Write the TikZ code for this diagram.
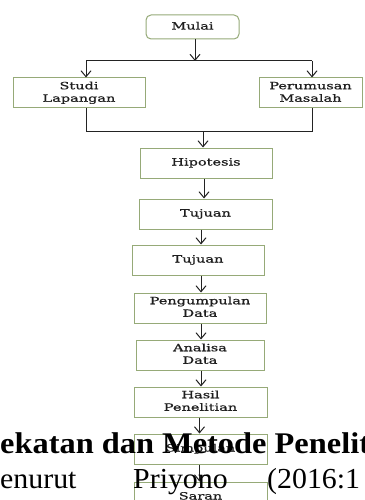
\documentclass[tikz,border=0pt]{standalone}
\usepackage{fontspec}
\usepackage{graphicx}
\usetikzlibrary{arrows.meta}
\newfontfamily\boxfont{DejaVu Serif}[FakeBold=0.6]
\newfontfamily\docfont{Liberation Serif}
\definecolor{boxedge}{RGB}{150,170,120}
\definecolor{linecol}{RGB}{35,35,35}
\definecolor{txtcol}{RGB}{30,30,30}
\newcommand\bt[1]{\scalebox{1.45}[1]{\begin{tabular}{@{}c@{}}#1\end{tabular}}}
\newcommand\bigw[1]{\scalebox{1.08}[1]{#1}}
\newcommand\regw[1]{\scalebox{1.03}[1]{#1}}
\begin{document}
\begin{tikzpicture}[x=1pt,y=-1pt,
  box/.style={draw=boxedge, line width=1pt, fill=white, inner sep=0pt, text=txtcol,
    font=\boxfont\fontsize{10}{12.5}\selectfont},
  arr/.style={draw=linecol, line width=1pt, -{Straight Barb[length=6pt,width=10pt]}},
  ln/.style={draw=linecol, line width=1pt},
  doctxt/.style={anchor=base west, inner sep=0pt, text=black}]
\useasboundingbox (0,0) rectangle (364,500);
\clip (0,0) rectangle (364,500);
\fill[white] (0,0) rectangle (364,500);

% boxes
\node[box, rounded corners=5pt, minimum width=93pt, minimum height=24pt] (mulai) at (192.5,27) {\bt{Mulai}};
\node[box, minimum width=132pt, minimum height=30pt] (studi) at (79,93) {\bt{Studi\\Lapangan}};
\node[box, minimum width=103pt, minimum height=30pt] (perum) at (310.5,93) {\bt{Perumusan\\Masalah}};
\node[box, minimum width=132pt, minimum height=30pt] (hip) at (206,163) {\bt{Hipotesis}};
\node[box, minimum width=133pt, minimum height=30pt] (tuj1) at (205.5,214) {\bt{Tujuan}};
\node[box, minimum width=132pt, minimum height=30pt] (tuj2) at (198,260) {\bt{Tujuan}};
\node[box, minimum width=132pt, minimum height=30pt] (peng) at (200,308) {\bt{Pengumpulan\\Data}};
\node[box, minimum width=128pt, minimum height=30pt] (anal) at (200,355) {\bt{Analisa\\Data}};
\node[box, minimum width=133pt, minimum height=30pt] (hasil) at (200.5,402) {\bt{Hasil\\Penelitian}};
\node[box, minimum width=133pt, minimum height=30pt] (simp) at (200.5,449) {\bt{Simpulan}};
\node[box, minimum width=133pt, minimum height=30pt] (saran) at (200.5,497) {\bt{Saran}};

% connectors
\coordinate (split) at (195,61);
\coordinate (cl) at (86,61);
\coordinate (cr) at (312,61);
\draw[arr] (mulai.south -| split) -- (split);
\draw[ln] (cl) -- (cr);
\draw[arr] (cl) -- (studi.north -| cl);
\draw[arr] (cr) -- (perum.north -| cr);
\coordinate (jl) at (86,131);
\coordinate (jr) at (312,131);
\coordinate (jm) at (203,131);
\draw[ln] (studi.south -| jl) -- (jl) -- (jr) -- (perum.south -| jr);
\draw[arr] (jm) -- (hip.north -| jm);
\coordinate (c1) at (204,0);
\coordinate (c2) at (201,0);
\coordinate (c3) at (199.5,0);
\draw[arr] (hip.south -| c1) -- (tuj1.north -| c1);
\draw[arr] (tuj1.south -| c2) -- (tuj2.north -| c2);
\draw[arr] (tuj2.south -| c2) -- (peng.north -| c2);
\draw[arr] (peng.south -| c2) -- (anal.north -| c2);
\draw[arr] (anal.south -| c2) -- (hasil.north -| c2);
\draw[arr] (hasil.south -| c3) -- (simp.north -| c3);
\draw[arr] (simp.south -| c3) -- (saran.north -| c3);

% overlaid document text
\node[doctxt, font=\docfont\bfseries\fontsize{30}{30}\selectfont] (head) at (0,453) {\bigw{ekatan dan Metode Penelit}};
\node[doctxt, font=\docfont\fontsize{29}{29}\selectfont] (w1) at (0,488) {\regw{enurut}};
\node[doctxt, font=\docfont\fontsize{29}{29}\selectfont] (w2) at (133,488) {\regw{Priyono}};
\node[doctxt, font=\docfont\fontsize{29}{29}\selectfont] (w3) at (267,488) {\regw{(2016:1}};
\end{tikzpicture}
\end{document}
